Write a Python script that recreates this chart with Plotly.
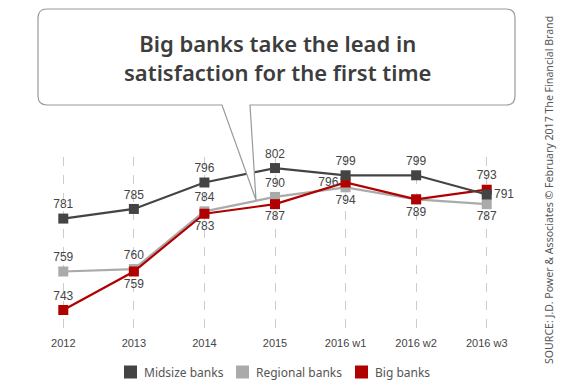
import plotly.graph_objects as go

categories = ["2012", "2013", "2014", "2015", "2016 w1", "2016 w2", "2016 w3"]
midsize = [781, 785, 796, 802, 799, 799, 791]
regional = [759, 760, 784, 790, 794, 789, 787]
big = [743, 759, 783, 787, 796, 789, 793]
series_names = ["Midsize banks", "Regional banks", "Big banks"]

mid_pos = ["top center"] * 6 + ["middle right"]
reg_pos = ["top center"] * 4 + ["bottom center"] * 3
big_pos = ["top center", "bottom center", "bottom center", "bottom center", "middle left", "bottom center", "top center"]
reg_text = [str(v) for v in regional]
big_text = [str(v) for v in big]
big_text[5] = ""  # shared with regional label

C_MID = "#444444"
C_REG = "#aaaaaa"
C_BIG = "#b00000"
LABEL_FONT = dict(family="Liberation Sans, Arial", size=12, color="#444444")

W, H = 565, 387
L, R, T, B = 28, 43, 157, 52
PW, PH = W - L - R, H - T - B

def px(x):
    return (x - L) / PW

def py(y):
    return (H - B - y) / PH

fig = go.Figure()
fig.add_trace(go.Scatter(x=categories, y=regional, mode="lines+markers+text", text=reg_text, name=series_names[1],
                         textposition=reg_pos, textfont=LABEL_FONT, showlegend=False, cliponaxis=False,
                         line=dict(color=C_REG, width=2.2), marker=dict(symbol="square", size=10, color=C_REG)))
fig.add_trace(go.Scatter(x=categories, y=big, mode="lines+markers+text", text=big_text, name=series_names[2],
                         textposition=big_pos, textfont=LABEL_FONT, showlegend=False, cliponaxis=False,
                         line=dict(color=C_BIG, width=2.2), marker=dict(symbol="square", size=10, color=C_BIG)))
fig.add_trace(go.Scatter(x=categories, y=midsize, mode="lines+markers+text", text=[str(v) for v in midsize],
                         name=series_names[0],
                         textposition=mid_pos, textfont=LABEL_FONT, showlegend=False, cliponaxis=False,
                         line=dict(color=C_MID, width=2.2), marker=dict(symbol="square", size=10, color=C_MID)))

# legend (drawn manually for exact spacing)
legend_items = [(series_names[0], C_MID, 124), (series_names[1], C_REG, 236), (series_names[2], C_BIG, 355)]
ly = 372
for name, col, lx in legend_items:
    fig.add_shape(type="rect", xref="paper", yref="paper",
                  x0=px(lx), x1=px(lx + 13), y0=py(ly - 6.5), y1=py(ly + 6.5),
                  fillcolor=col, line=dict(width=0))
    fig.add_annotation(x=px(lx + 18), y=py(ly), xref="paper", yref="paper", showarrow=False,
                       text=name, xanchor="left", yanchor="middle",
                       font=dict(family="Noto Sans", size=12, color="#555555"))

# speech bubble
x0, x1, y0, y1, r = 38, 515, 9, 105, 9
n0, n1, tx, ty = 222, 250, 256, 200
pts = (
    f"M {px(x0 + r)},{py(y0)} L {px(x1 - r)},{py(y0)} Q {px(x1)},{py(y0)} {px(x1)},{py(y0 + r)} "
    f"L {px(x1)},{py(y1 - r)} Q {px(x1)},{py(y1)} {px(x1 - r)},{py(y1)} "
    f"L {px(n1)},{py(y1)} L {px(tx)},{py(ty)} L {px(n0)},{py(y1)} "
    f"L {px(x0 + r)},{py(y1)} Q {px(x0)},{py(y1)} {px(x0)},{py(y1 - r)} "
    f"L {px(x0)},{py(y0 + r)} Q {px(x0)},{py(y0)} {px(x0 + r)},{py(y0)} Z"
)
fig.add_shape(type="path", path=pts, xref="paper", yref="paper", layer="above",
              fillcolor="white", line=dict(color="#999999", width=1.2))

fig.add_annotation(x=px(277), y=py(57), xref="paper", yref="paper", showarrow=False,
                   text="Big banks take the lead in<br>satisfaction for the first time",
                   font=dict(family="Noto Sans", size=22, color="#3d3d3d", weight=600),
                   align="center", xanchor="center", yanchor="middle")

fig.add_annotation(x=px(549), y=py(190), xref="paper", yref="paper", showarrow=False,
                   text="SOURCE: J.D. Power &amp; Associates © February 2017 The Financial Brand",
                   textangle=-90, font=dict(family="Noto Sans", size=10.6, color="#555555"),
                   xanchor="center", yanchor="middle")

fig.update_layout(
    width=W, height=H, margin=dict(l=L, r=R, t=T, b=B, autoexpand=False),
    plot_bgcolor="white", paper_bgcolor="white", showlegend=False, hovermode=False,
    xaxis=dict(type="category", range=[-0.5, 6.5], showgrid=True, griddash="dash",
               gridcolor="#cccccc", gridwidth=1, showline=False, zeroline=False, ticks="",
               tickfont=dict(family="Liberation Sans, Arial", size=11, color="#444444")),
    yaxis=dict(range=[732.6, 806.6], showgrid=False, showticklabels=False, zeroline=False, showline=False),
)

fig.write_html("out.html", config={"displayModeBar": False},
               post_script="document.body.style.margin='0px';document.body.style.overflow='hidden';")
